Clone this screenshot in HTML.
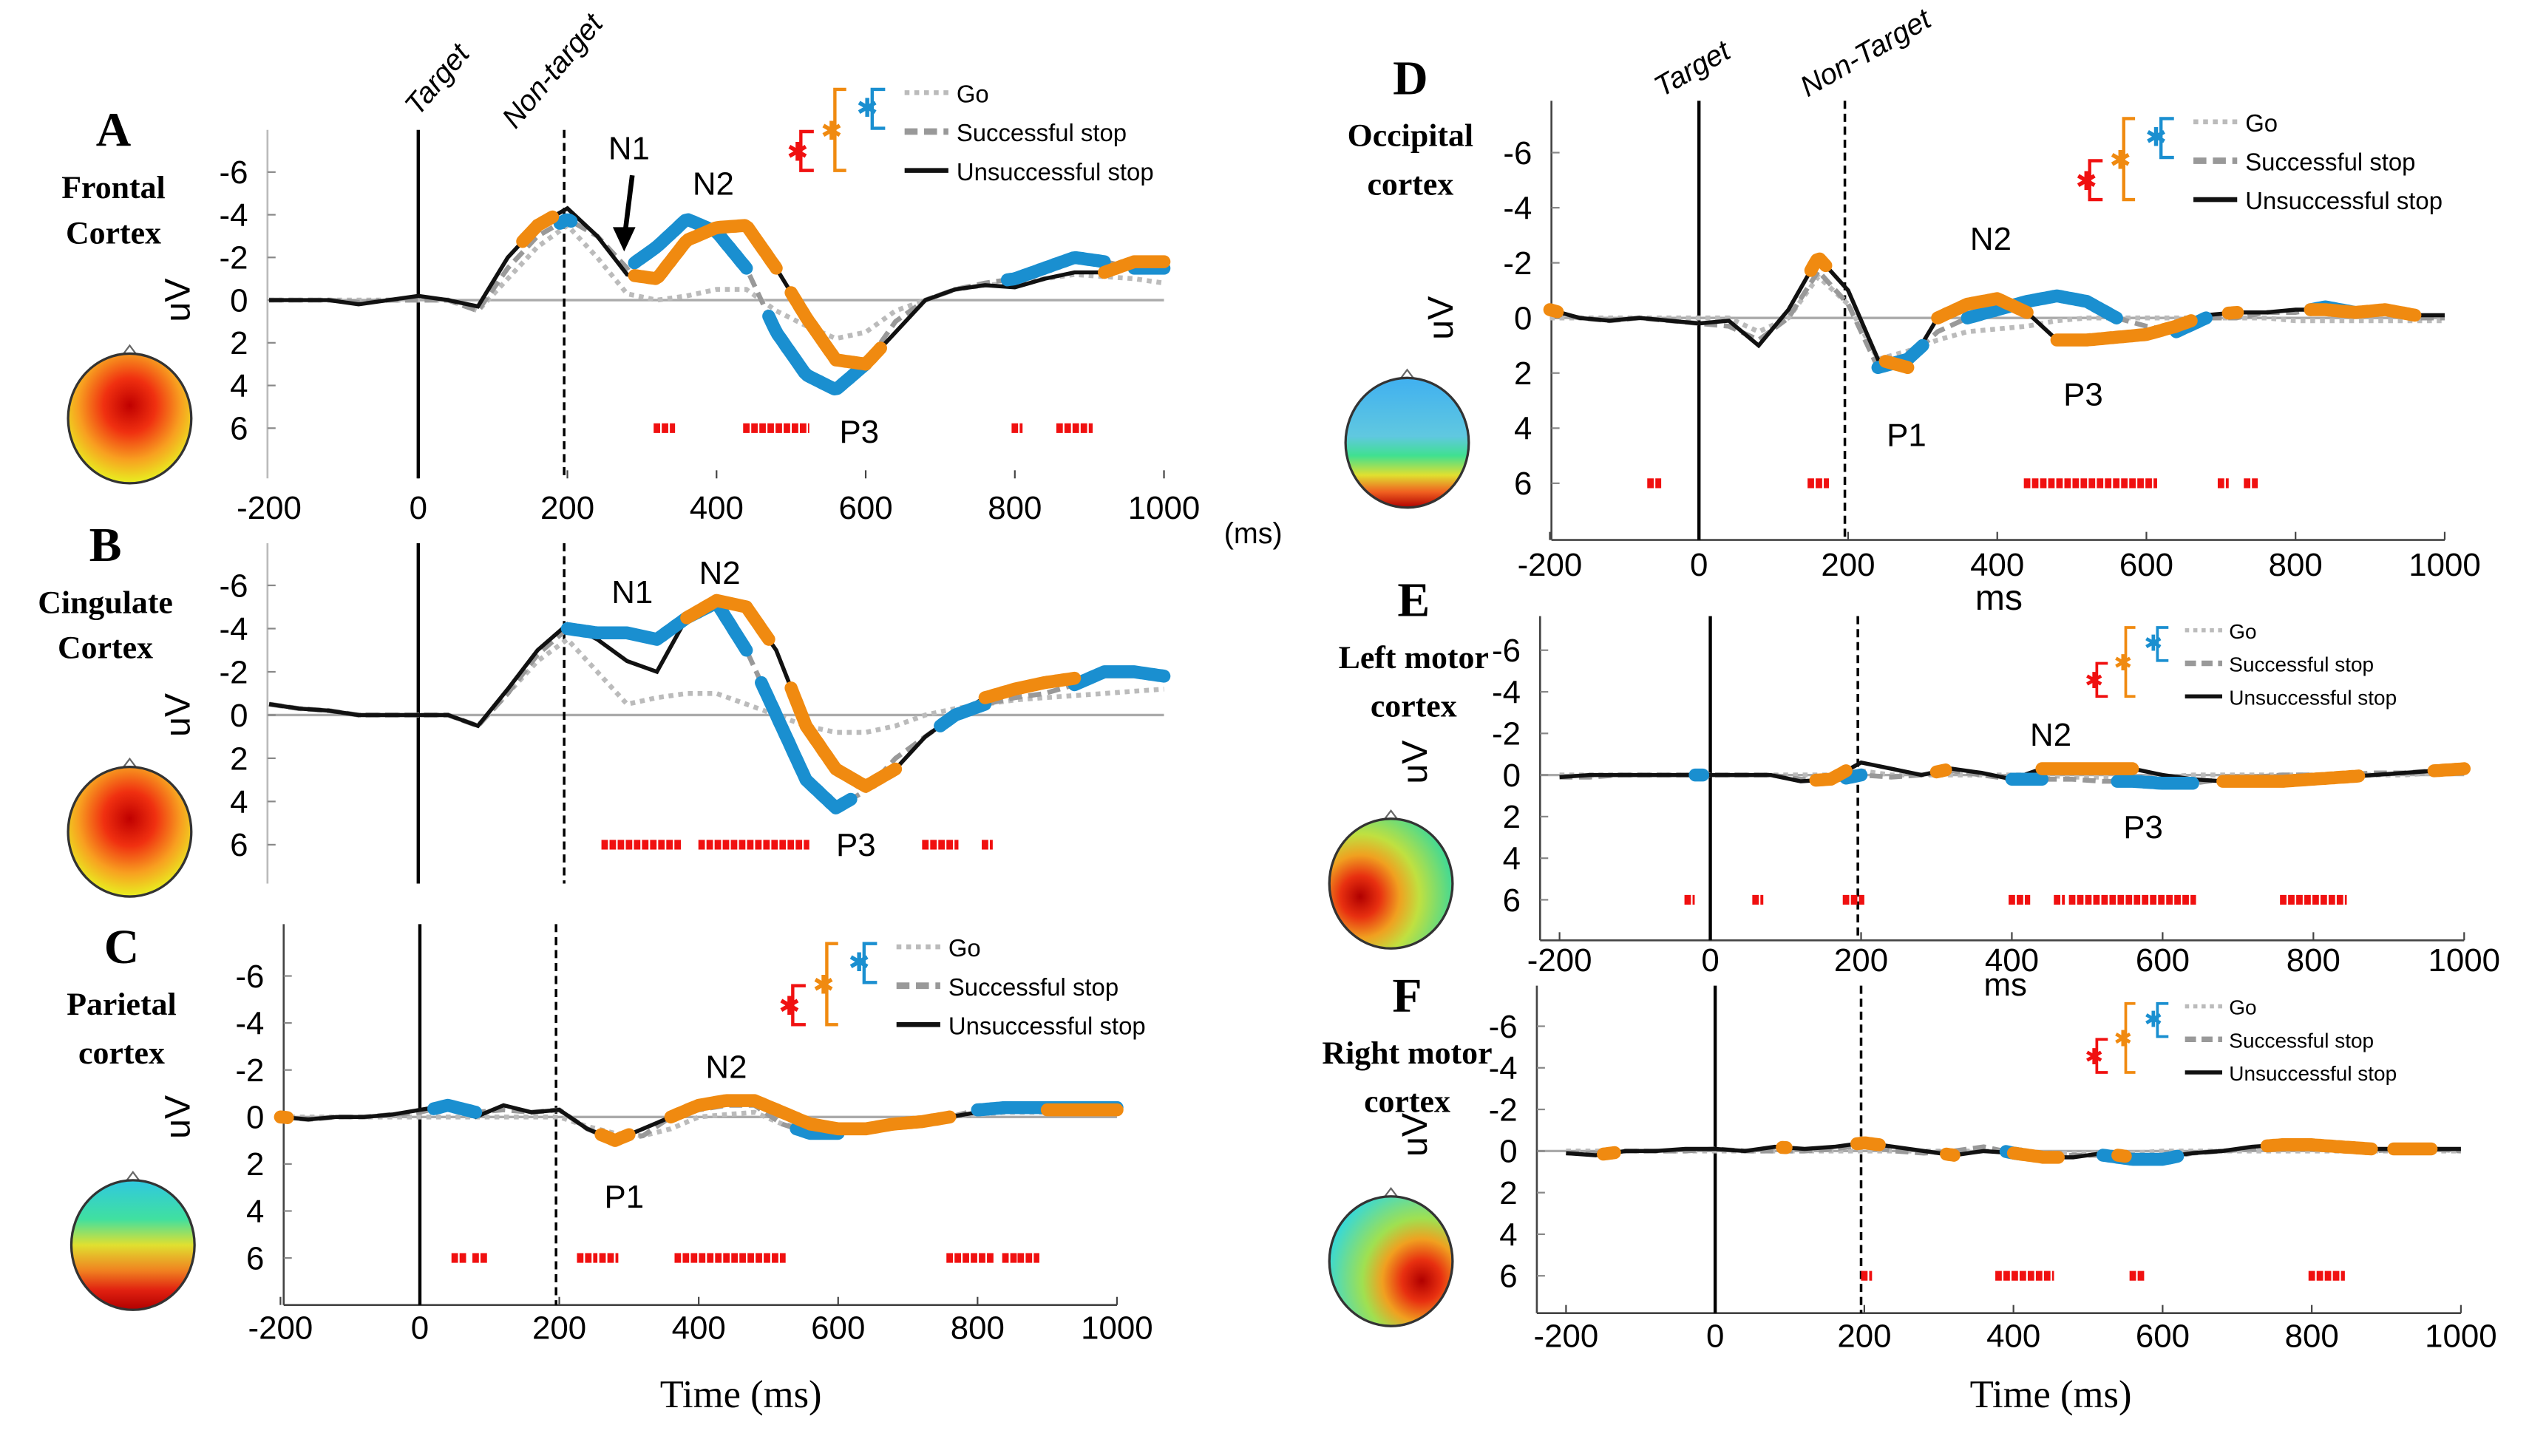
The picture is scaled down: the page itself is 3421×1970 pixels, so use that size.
<!DOCTYPE html>
<html><head><meta charset="utf-8">
<style>
html,body{margin:0;padding:0;background:#fff;}
svg{display:block;}
.sans{font-family:"Liberation Sans",Arial,sans-serif;}
.serif{font-family:"Liberation Serif","Times New Roman",serif;}
</style></head>
<body>
<svg id="fig" width="3421" height="1970" viewBox="0 0 1560 898" xmlns="http://www.w3.org/2000/svg">
<defs>
<radialGradient id="gA" cx="0.5" cy="0.4" r="0.6"><stop offset="0" stop-color="#c00000"/><stop offset="0.35" stop-color="#f03010"/><stop offset="0.7" stop-color="#f8a020"/><stop offset="1" stop-color="#e8f020"/></radialGradient>
<linearGradient id="gC" x1="0" y1="0" x2="0" y2="1"><stop offset="0" stop-color="#30c8e0"/><stop offset="0.3" stop-color="#40e0a0"/><stop offset="0.5" stop-color="#e0e030"/><stop offset="0.7" stop-color="#f08020"/><stop offset="0.85" stop-color="#e02010"/><stop offset="1" stop-color="#b00000"/></linearGradient>
<linearGradient id="gD" x1="0" y1="0" x2="0" y2="1"><stop offset="0" stop-color="#40b0f0"/><stop offset="0.45" stop-color="#60c8e0"/><stop offset="0.6" stop-color="#40e090"/><stop offset="0.75" stop-color="#e0e030"/><stop offset="0.88" stop-color="#f06020"/><stop offset="1" stop-color="#b00000"/></linearGradient>
<radialGradient id="gE" cx="0.25" cy="0.6" r="0.8"><stop offset="0" stop-color="#b00000"/><stop offset="0.2" stop-color="#e83010"/><stop offset="0.4" stop-color="#f0a020"/><stop offset="0.6" stop-color="#c0e040"/><stop offset="1" stop-color="#30d8a0"/></radialGradient>
<radialGradient id="gF" cx="0.75" cy="0.65" r="0.8"><stop offset="0" stop-color="#b00000"/><stop offset="0.2" stop-color="#e83010"/><stop offset="0.4" stop-color="#f0a020"/><stop offset="0.6" stop-color="#a0e050"/><stop offset="1" stop-color="#30d8e0"/></radialGradient>
</defs>
</svg>
<script>
// ---- data (uV, negative up) ----
const times = [-200,-160,-120,-80,-40,0,40,80,120,160,200,240,280,320,360,400,440,480,520,560,600,640,680,720,760,800,840,880,920,960,1000];
const xTicks = [-200,0,200,400,600,800,1000];
const yTicks = [-6,-4,-2,0,2,4,6];
// Panel A
const aGo = [0,0,0,0,0,0,0,0.5,-1,-2.5,-3.5,-2,-0.3,0,-0.2,-0.5,-0.5,0.5,1.2,1.8,1.5,0.5,0,-0.5,-0.7,-0.8,-1,-1.2,-1.1,-1,-0.8];
const aSS = [0,0,0,0.1,0,0,0,0.5,-1.5,-3,-3.8,-3,-1.5,-2.5,-3.8,-3.2,-1.5,1.5,3.5,4.2,3,1,0,-0.5,-0.8,-1,-1.5,-2,-1.8,-1.5,-1.5];
const aUS = [0,0,0,0.2,0,-0.2,0,0.3,-2,-3.5,-4.3,-3,-1.2,-1,-2.8,-3.4,-3.5,-1.5,0.8,2.8,3,1.5,0,-0.5,-0.7,-0.6,-1,-1.3,-1.3,-1.8,-1.8];
const aBlue = [[190,205],[290,440],[470,600],[790,920],[960,1000]];
const aOrange = [[140,180],[290,480],[500,620],[920,1000]];
const aStars = [[320,340],[440,520],[800,806],[860,900]];
// Panel B
const bGo = [-0.5,-0.3,-0.2,0,0,0,0,0.5,-1,-2.5,-3.5,-2,-0.5,-0.8,-1,-1,-0.5,0,0.5,0.8,0.8,0.5,0,-0.3,-0.5,-0.7,-0.8,-0.9,-1,-1.1,-1.2];
const bSS = [-0.5,-0.3,-0.2,0,0,0,0,0.5,-1,-2.8,-4,-3.8,-3.8,-3.5,-4.5,-5.2,-3,0,3,4.3,3.5,2,1,0,-0.5,-0.8,-1,-1.4,-2,-2,-1.8];
const bUS = [-0.5,-0.3,-0.2,0,0,0,0,0.5,-1.2,-3,-4.2,-3.5,-2.5,-2,-4.5,-5.3,-5,-3,0.5,2.5,3.3,2.5,1,0,-0.8,-1.2,-1.5,-1.7,-1.8,-1.8,-1.8];
const bBlue = [[200,440],[460,580],[700,760],[880,1000]];
const bOrange = [[360,470],[500,640],[760,880]];
const bStars = [[250,350],[380,520],[680,720],[760,766]];
// Panel C
const cGo = [0,0,0,0,0,0,0,0,0,0,0,0.4,0.7,0.8,0.5,0,-0.1,-0.2,0.3,0.5,0.5,0.4,0.2,0.1,0,-0.1,-0.2,-0.2,-0.2,-0.2,-0.2];
const cSS = [0,0.1,0,0,-0.1,-0.2,-0.5,-0.2,-0.3,-0.2,-0.3,0.5,1,0.8,0,-0.3,-0.5,-0.5,0.3,0.7,0.7,0.6,0.4,0.2,0,-0.3,-0.4,-0.4,-0.4,-0.4,-0.4];
const cUS = [0,0.1,0,0,-0.1,-0.3,-0.5,0,-0.5,-0.2,-0.3,0.5,1,0.5,0,-0.5,-0.7,-0.7,-0.2,0.3,0.5,0.5,0.3,0.2,0,-0.2,-0.3,-0.3,-0.3,-0.3,-0.3];
const cBlue = [[20,80],[540,600],[800,1000]];
const cOrange = [[-200,-190],[260,300],[360,520],[520,760],[900,1000]];
const cStars = [[50,62],[80,92],[230,250],[262,280],[370,520],[760,820],[840,852],[862,884]];
// Panel D
const dGo = [0,0,0,0,0,0,0,0.5,0,-1.5,-0.5,1.5,1.2,0.8,0.5,0.4,0.3,0.1,0,0,0,0,0,0,0,0.1,0.1,0.1,0.1,0.1,0.1];
const dSS = [-0.2,0,0.1,0,0.1,0.2,0.3,0.8,0,-1.7,-0.5,1.8,1.5,0.5,0,-0.3,-0.6,-0.8,-0.6,0,0.3,0.5,0,0,-0.2,-0.2,-0.4,-0.2,-0.2,0,0];
const dUS = [-0.3,0,0.1,0,0.1,0.2,0.1,1,-0.3,-2.2,-1,1.5,1.8,0,-0.5,-0.7,-0.2,0.8,0.8,0.7,0.6,0.3,-0.1,-0.2,-0.2,-0.3,-0.3,-0.2,-0.3,-0.1,-0.1];
const dBlue = [[240,300],[360,560],[640,680],[820,880]];
const dOrange = [[-200,-190],[150,170],[250,280],[320,440],[480,660],[710,722],[820,960]];
const dStars = [[-65,-55],[150,170],[440,610],[700,706],[735,745]];
// Panel E
const eGo = [0,0,0,0,0,0,0,0,0,0,-0.2,0,0,0,0,0,0,0.1,0.1,0.1,0.1,0,0,0,0,0,0,0,0,-0.1,-0.1];
const eSS = [0.1,0.1,0,0,0,0,0,0,0.2,0.3,0,0.1,0,-0.2,0,0.2,0.2,0.2,0.3,0.3,0.4,0.4,0.2,0.1,0,0,0,-0.1,-0.1,-0.2,-0.3];
const eUS = [0.1,0,0,0,0,0,0,0,0.3,0.2,-0.6,-0.3,0,-0.3,-0.1,0.2,-0.3,-0.3,-0.3,-0.3,0,0.2,0.3,0.3,0.3,0.2,0.1,0,-0.1,-0.2,-0.3];
const eBlue = [[-20,-10],[180,200],[400,440],[540,640]];
const eOrange = [[140,180],[300,312],[440,560],[680,860],[960,1000]];
const eStars = [[-30,-25],[60,66],[180,200],[400,420],[460,466],[480,640],[760,840]];
// Panel F
const fGo = [0,0,0,0,0,0,0,0,0,0,0,0,0,0,0,0,0.1,0.1,0.1,0.1,0,0,0,0,0,0,0,0,0,0,0];
const fSS = [0.1,0.1,0,0,0,-0.1,0,0,0,-0.1,-0.3,0,0.1,0,-0.2,0.1,0.3,0.2,0.2,0.4,0.4,0.1,0,-0.1,-0.3,-0.3,-0.2,0,-0.1,-0.1,0];
const fUS = [0.1,0.2,0,0,-0.1,-0.1,0,-0.2,-0.1,-0.2,-0.4,-0.2,0,0.2,0,0.1,0.3,0.3,0.1,0.3,0.3,0.1,0,-0.2,-0.3,-0.3,-0.2,-0.1,-0.1,-0.1,-0.1];
const fBlue = [[390,410],[520,620]];
const fOrange = [[-150,-135],[90,95],[190,220],[310,320],[400,460],[540,550],[740,880],[910,960]];
const fStars = [[200,206],[380,450],[560,572],[800,840]];

// ---- drawing ----
const NS='http://www.w3.org/2000/svg';
const svg=document.getElementById('fig');
function mk(tag,attrs,parent){const e=document.createElementNS(NS,tag);for(const k in attrs)e.setAttribute(k,attrs[k]);(parent||svg).appendChild(e);return e;}
function txt(s,x,y,size,cls,parent,extra){const t=mk('text',Object.assign({x:x,y:y,'font-size':size,class:cls,'text-anchor':'middle'},extra||{}),parent);t.textContent=s;return t;}
function interp(arr,t){for(let i=0;i<times.length-1;i++){if(t<=times[i+1]){const f=(t-times[i])/(times[i+1]-times[i]);return arr[i]+f*(arr[i+1]-arr[i]);}}return arr[arr.length-1];}

const panels=[
 {id:'a',letter:'A',title:['Frontal','Cortex'],tx:[70,122,150],x0:258,x200:350,y0:185,y6:264,axisX:165,yTop:80,yBot:295,tickY:320,go:aGo,ss:aSS,us:aUS,blue:aBlue,orange:aOrange,stars:aStars,lg:[490,55,1],topo:[80,258,'gA'],uv:[117,185],box:false},
 {id:'b',letter:'B',title:['Cingulate','Cortex'],tx:[65,378,406],x0:258,x200:350,y0:441,y6:521,axisX:165,yTop:335,yBot:545,tickY:null,go:bGo,ss:bSS,us:bUS,blue:bBlue,orange:bOrange,stars:bStars,lg:null,topo:[80,513,'gA'],uv:[117,441],box:false},
 {id:'c',letter:'C',title:['Parietal','cortex'],tx:[75,626,656],x0:259,x200:345,y0:689,y6:776,axisX:175,yTop:570,yBot:805,tickY:826,go:cGo,ss:cSS,us:cUS,blue:cBlue,orange:cOrange,stars:cStars,lg:[485,582,1],topo:[82,768,'gC'],uv:[117,689],box:true},
 {id:'d',letter:'D',title:['Occipital','cortex'],tx:[870,90,120],x0:1048,x200:1140,y0:196,y6:298,axisX:957,yTop:62,yBot:333,tickY:355,go:dGo,ss:dSS,us:dUS,blue:dBlue,orange:dOrange,stars:dStars,lg:[1285,73,1],topo:[868,273,'gD'],uv:[896,196],box:true},
 {id:'e',letter:'E',title:['Left motor','cortex'],tx:[872,412,442],x0:1055,x200:1148,y0:478,y6:555,axisX:950,yTop:380,yBot:580,tickY:599,go:eGo,ss:eSS,us:eUS,blue:eBlue,orange:eOrange,stars:eStars,lg:[1290,387,0.85],topo:[858,545,'gE'],uv:[880,470],box:true},
 {id:'f',letter:'F',title:['Right motor','cortex'],tx:[868,656,686],x0:1058,x200:1150,y0:710,y6:787,axisX:948,yTop:608,yBot:810,tickY:831,go:fGo,ss:fSS,us:fUS,blue:fBlue,orange:fOrange,stars:fStars,lg:[1290,619,0.85],topo:[858,778,'gF'],uv:[880,700],box:true}
];

panels.forEach(p=>{
 const g=mk('g',{});
 
 
 const X=t=>p.x0+(t/200)*(p.x200-p.x0);
 const Y=v=>p.y0+(v/6)*(p.y6-p.y0);
 const xR=X(1000);
 const zl=mk('line',{x1:p.axisX,x2:xR,y1:Y(0),y2:Y(0),stroke:'#aaa','stroke-width':1.5},g);
 
 const ya=mk('line',{x1:p.axisX,x2:p.axisX,y1:p.yTop,y2:p.yBot,stroke:p.box?'#444':'#bbb','stroke-width':1.2},g);
 
 if(p.box){const xa=mk('line',{x1:p.axisX,x2:xR,y1:p.yBot,y2:p.yBot,stroke:'#444','stroke-width':1.2},g);
  }
 yTicks.forEach(v=>{
  mk('line',{x1:p.axisX,x2:p.axisX+5,y1:Y(v),y2:Y(v),stroke:'#888','stroke-width':1},g);
  const t=txt(String(v),p.axisX-12,Y(v)+7,20,'sans',g,{'text-anchor':'end'});
  
 });
 if(p.tickY){xTicks.forEach(v=>{
  if(p.box||v>-200) mk('line',{x1:X(v),x2:X(v),y1:p.yBot,y2:p.yBot-5,stroke:'#444','stroke-width':1},g);
  const t=txt(String(v),X(v),p.tickY,20,'sans',g);
  
 });}
 const vl=mk('line',{x1:X(0),x2:X(0),y1:p.yTop,y2:p.yBot,stroke:'#000','stroke-width':2},g);
 
 const dl=mk('line',{x1:X(200)-2,x2:X(200)-2,y1:p.yTop,y2:p.yBot,stroke:'#000','stroke-width':1.6,'stroke-dasharray':'5,3'},g);
 
 const pts=arr=>times.map((t,i)=>X(t).toFixed(1)+','+Y(arr[i]).toFixed(1)).join(' ');
 const go=mk('polyline',{points:pts(p.go),fill:'none',stroke:'#bbb','stroke-width':3,'stroke-dasharray':'3,3'},g);
 
 const ss=mk('polyline',{points:pts(p.ss),fill:'none',stroke:'#999','stroke-width':3,'stroke-dasharray':'8,4'},g);
 
 const us=mk('polyline',{points:pts(p.us),fill:'none',stroke:'#111','stroke-width':2.5},g);
 
 const seg=(ranges,arr,col,name)=>ranges.forEach(r=>{
  const ps=[];for(let t=r[0];t<=r[1];t+=4)ps.push(X(t).toFixed(1)+','+Y(interp(arr,t)).toFixed(1));
  ps.push(X(r[1]).toFixed(1)+','+Y(interp(arr,r[1])).toFixed(1));
  const s=mk('polyline',{points:ps.join(' '),fill:'none',stroke:col,'stroke-width':8,'stroke-linecap':'round','stroke-linejoin':'round'},g);
  
 });
 seg(p.blue,p.ss,'#1a8fd0','significant-blue-segment');
 seg(p.orange,p.us,'#f08a10','significant-orange-segment');
 p.stars.forEach(r=>{
  const s=mk('line',{x1:X(r[0])-2,x2:X(r[1])+2,y1:Y(6),y2:Y(6),stroke:'#f01010','stroke-width':6,'stroke-dasharray':'4,1'},g);
  
 });
 const L=txt(p.letter,p.tx[0],p.tx[1]-32,30,'serif',g,{'font-weight':'bold'});
 
 p.title.forEach((s,i)=>{const t=txt(s,p.tx[0],p.tx[1+i],20,'serif',g,{'font-weight':'bold'});
  });
 const uv=txt('uV',p.uv[0],p.uv[1],22,'sans',g,{transform:'rotate(-90 '+p.uv[0]+' '+p.uv[1]+')'});
 
 const [cx,cy,gid]=p.topo;
 mk('path',{d:`M${cx-6} ${cy-37} L${cx} ${cy-45} L${cx+6} ${cy-37}`,fill:'#fff',stroke:'#666','stroke-width':1},g);
 const hd=mk('ellipse',{cx:cx,cy:cy,rx:38,ry:40,fill:'url(#'+gid+')',stroke:'#333','stroke-width':1.5},g);
 
 if(p.lg){
  const [lx,ly,s]=p.lg;const lg=mk('g',{transform:`translate(${lx},${ly}) scale(${s})`},g);
  
  mk('polyline',{points:'56,0 48,0 48,24 56,24',fill:'none',stroke:'#1a8fd0','stroke-width':2},lg);
  txt('✱',45,17,16,'sans',lg).setAttribute('fill','#1a8fd0');
  mk('polyline',{points:'32,0 25,0 25,50 32,50',fill:'none',stroke:'#f08a10','stroke-width':2},lg);
  txt('✱',23,31,16,'sans',lg).setAttribute('fill','#f08a10');
  mk('polyline',{points:'12,26 4,26 4,50 12,50',fill:'none',stroke:'#f01010','stroke-width':2},lg);
  txt('✱',2,44,16,'sans',lg).setAttribute('fill','#f01010');
  mk('line',{x1:68,x2:95,y1:2,y2:2,stroke:'#bbb','stroke-width':3,'stroke-dasharray':'3,3'},lg);
  mk('line',{x1:68,x2:95,y1:26,y2:26,stroke:'#999','stroke-width':4,'stroke-dasharray':'8,4'},lg);
  mk('line',{x1:68,x2:95,y1:50,y2:50,stroke:'#111','stroke-width':3},lg);
  ['Go','Successful stop','Unsuccessful stop'].forEach((s,i)=>{const t=txt(s,100,8+24*i,15,'sans',lg,{'text-anchor':'start'});
   });
 }
});
function ann(s,x,y,size,name,extra,cls){const t=txt(s,x,y,size,cls||'sans',svg,extra);return t;}
ann('Target',258,72,18,'target-label',{transform:'rotate(-50 258 72)','font-style':'italic','text-anchor':'start'});
ann('Non-target',318,80,18,'non-target-label',{transform:'rotate(-50 318 80)','font-style':'italic','text-anchor':'start'});
ann('Target',1025,60,18,'target-label',{transform:'rotate(-30 1025 60)','font-style':'italic','text-anchor':'start'});
ann('Non-Target',1115,60,18,'non-target-label',{transform:'rotate(-30 1115 60)','font-style':'italic','text-anchor':'start'});
ann('(ms)',773,335,18,'x-axis-unit');
ann('N1',388,98,20,'peak-n1');ann('N2',440,120,20,'peak-n2');ann('P3',530,273,20,'peak-p3');
const ar=mk('line',{x1:390,x2:385,y1:108,y2:148,stroke:'#000','stroke-width':3});
mk('path',{d:'M378 140 L385 155 L392 140 Z',fill:'#000'});
ann('N1',390,372,20,'peak-n1');ann('N2',444,360,20,'peak-n2');ann('P3',528,528,20,'peak-p3');
ann('N2',448,665,20,'peak-n2');ann('P1',385,745,20,'peak-p1');
ann('N2',1228,154,20,'peak-n2');ann('P1',1176,275,20,'peak-p1');ann('P3',1285,250,20,'peak-p3');
ann('N2',1265,460,20,'peak-n2');ann('P3',1322,517,20,'peak-p3');
ann('ms',1233,376,22,'x-axis-title');ann('ms',1237,614,20,'x-axis-title');
ann('Time (ms)',457,868,24,'x-axis-title',{},'serif');ann('Time (ms)',1265,868,24,'x-axis-title',{},'serif');
</script>
</body></html>
